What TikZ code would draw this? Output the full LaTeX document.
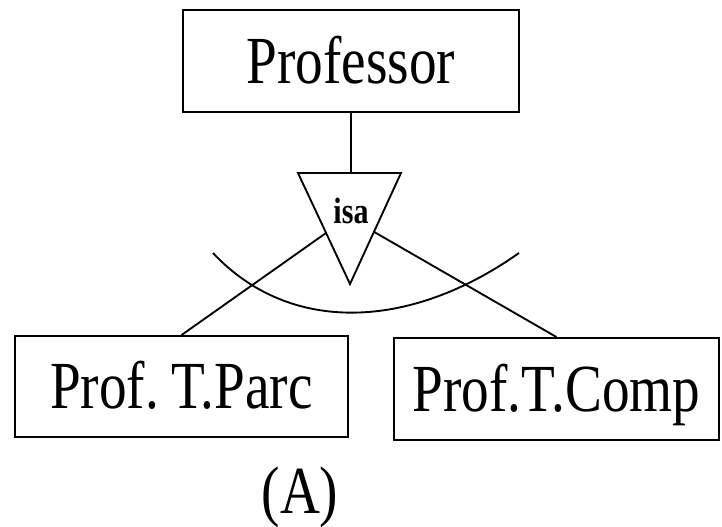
\documentclass[tikz,border=0pt]{standalone}
\usepackage{fontspec}
\setmainfont{Liberation Serif}
\newfontfamily\condfont[FakeStretch=0.82]{Liberation Serif}
\usetikzlibrary{calc}
\begin{document}
\begin{tikzpicture}[x=0.75pt,y=-0.75pt,line width=1.4pt,
  entity/.style={draw,line width=1.4pt,inner sep=0pt,text height=33pt,text depth=0pt,
    font=\condfont\fontsize{50.5}{55}\selectfont},
  bigtext/.style={inner sep=0pt,font=\condfont\fontsize{50.5}{55}\selectfont},
  isatext/.style={inner sep=0pt,font=\condfont\bfseries\fontsize{27.5}{30}\selectfont}]
\useasboundingbox (0,0) rectangle (722,526);
\node[entity,minimum width=252pt,minimum height=76.5pt] (prof) at (351,61) {Professor};
\node[entity,minimum width=249.75pt,minimum height=75.75pt] (pt) at (181.5,386.5) {Prof.\kern0.18em T.Parc};
\node[entity,minimum width=243.75pt,minimum height=76.5pt] (pc) at (556.5,389) {Prof.T.Comp};
\node[bigtext] (lab) at (300,497) {(A)};
% isa triangle
\coordinate (t1) at (298,173);
\coordinate (t2) at (401,173);
\coordinate (t3) at (350,284);
\draw[line join=miter] (t1) -- (t2) -- (t3) -- cycle;
\node[isatext] (isa) at (351,211) {isa};
\coordinate (tl) at ($(t1)!0.54!(t3)$);
\coordinate (tr) at ($(t2)!0.53!(t3)$);
\draw (prof.south) -- (prof.south |- t1);
\draw (tl) -- (pt.north);
\draw (tr) -- (pc.north);
% disjointness arc
\coordinate (a1) at (213,253);
\coordinate (a2) at (519,253);
\draw (a1) .. controls (290,335) and (410,330) .. (a2);
\end{tikzpicture}
\end{document}
